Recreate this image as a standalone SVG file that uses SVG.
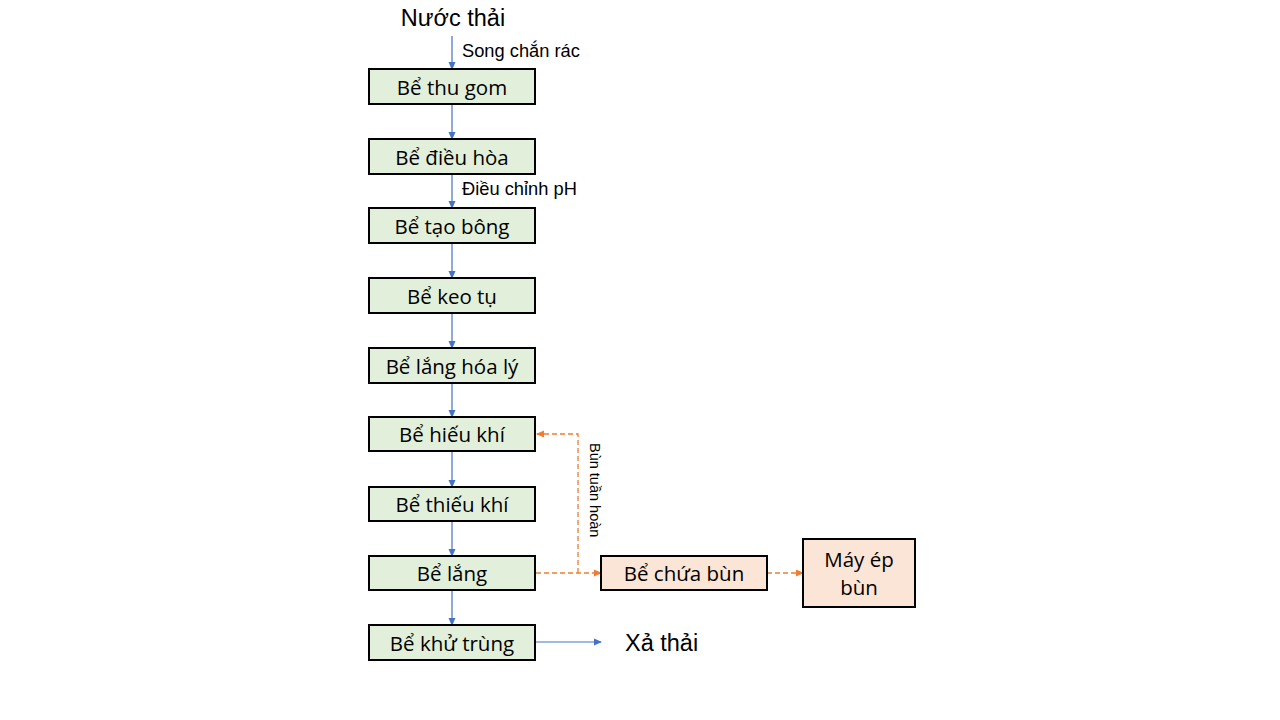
<svg xmlns="http://www.w3.org/2000/svg" width="1280" height="720" viewBox="0 0 1280 720">
<defs>
<marker id="ab" markerWidth="8" markerHeight="8" refX="7" refY="4" orient="auto" markerUnits="userSpaceOnUse"><path d="M0,0.5 L8,4 L0,7.5 Z" fill="#4472C4"/></marker>
<marker id="ao" markerWidth="8" markerHeight="8" refX="7" refY="4" orient="auto" markerUnits="userSpaceOnUse"><path d="M0,0.5 L8,4 L0,7.5 Z" fill="#ED7D31"/></marker>
</defs>
<style>
.g{fill:#E2EFDA;stroke:#000;stroke-width:2}
.o{fill:#FBE5D6;stroke:#000;stroke-width:2}
.t{font-family:"Open Sans","Noto Sans",sans-serif;font-size:20.5px;fill:#000;text-anchor:middle}
.s{font-family:"Liberation Sans",Arial,sans-serif;font-size:18.3px;fill:#000}
.l{font-family:"Liberation Sans",Arial,sans-serif;font-size:23.5px;fill:#000}
.r{font-family:"Liberation Sans",Arial,sans-serif;font-size:14.5px;fill:#000}
.b{stroke:#4472C4;stroke-width:1.2;fill:none;marker-end:url(#ab)}
.d{stroke:#ED7D31;stroke-width:1.3;fill:none;stroke-dasharray:5,3;marker-end:url(#ao)}
</style>
<rect width="1280" height="720" fill="#fff"/>
<g id="connectors">
<line class="b" x1="452" y1="36" x2="452" y2="69"/>
<line class="b" x1="452" y1="104" x2="452" y2="139"/>
<line class="b" x1="452" y1="174" x2="452" y2="208"/>
<line class="b" x1="452" y1="243" x2="452" y2="278"/>
<line class="b" x1="452" y1="313" x2="452" y2="348"/>
<line class="b" x1="452" y1="383" x2="452" y2="417"/>
<line class="b" x1="452" y1="451" x2="452" y2="487"/>
<line class="b" x1="452" y1="521" x2="452" y2="556"/>
<line class="b" x1="452" y1="590" x2="452" y2="625"/>
<line class="b" x1="535" y1="642" x2="601" y2="642"/>
<line class="d" x1="536" y1="573" x2="601" y2="573"/>
<polyline class="d" points="578,573 578,434 537,434"/>
<line class="d" x1="767" y1="573" x2="803" y2="573"/>
<text class="s" x="462" y="57">Song chắn rác</text>
<text class="s" x="462" y="195">Điều chỉnh pH</text>
<text class="r" transform="translate(590,443) rotate(90)">Bùn tuần hoàn</text>
</g>
<g id="nuoc-thai"><text class="l" x="453" y="26" text-anchor="middle">Nước thải</text></g>
<g id="thu-gom"><rect class="g" x="369" y="69" width="166" height="35"/><text class="t" x="452" y="95">Bể thu gom</text></g>
<g id="dieu-hoa"><rect class="g" x="369" y="139" width="166" height="35"/><text class="t" x="452" y="165">Bể điều hòa</text></g>
<g id="tao-bong"><rect class="g" x="369" y="208" width="166" height="35"/><text class="t" x="452" y="234">Bể tạo bông</text></g>
<g id="keo-tu"><rect class="g" x="369" y="278" width="166" height="35"/><text class="t" x="452" y="304">Bể keo tụ</text></g>
<g id="lang-hoa-ly"><rect class="g" x="369" y="348" width="166" height="35"/><text class="t" x="452" y="374">Bể lắng hóa lý</text></g>
<g id="hieu-khi"><rect class="g" x="369" y="417" width="166" height="34"/><text class="t" x="452" y="442">Bể hiếu khí</text></g>
<g id="thieu-khi"><rect class="g" x="369" y="487" width="166" height="34"/><text class="t" x="452" y="512">Bể thiếu khí</text></g>
<g id="lang"><rect class="g" x="369" y="556" width="166" height="34"/><text class="t" x="452" y="581">Bể lắng</text></g>
<g id="khu-trung"><rect class="g" x="369" y="625" width="166" height="35"/><text class="t" x="452" y="651">Bể khử trùng</text></g>
<g id="xa-thai"><text class="l" x="625" y="651">Xả thải</text></g>
<g id="chua-bun"><rect class="o" x="601" y="556" width="166" height="34"/><text class="t" x="684" y="581">Bể chứa bùn</text></g>
<g id="may-ep"><rect class="o" x="803" y="539" width="112" height="68"/><text class="t" x="859" y="567">Máy ép</text><text class="t" x="859" y="595">bùn</text></g>
</svg>
